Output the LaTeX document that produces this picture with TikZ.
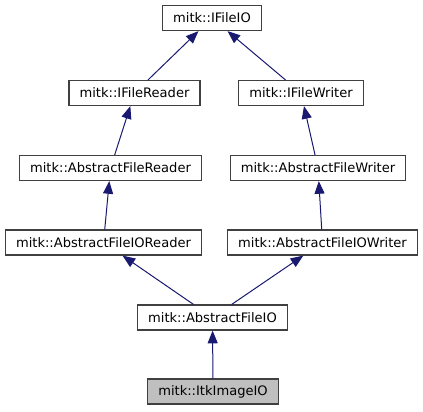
\documentclass[tikz,border=0pt]{standalone}
\usepackage{fontspec}
\setmainfont{DejaVu Sans}
\usetikzlibrary{arrows.meta}

\definecolor{edgeblue}{RGB}{25,25,112}
\definecolor{boxgray}{RGB}{64,64,64}
\definecolor{hlgray}{RGB}{191,191,191}

\tikzset{
  cls/.style={draw=boxgray, line width=0.9pt, fill=white, inner xsep=8pt,
    minimum height=18.75pt, font=\fontsize{9.8}{11}\selectfont},
  cur/.style={cls, fill=hlgray},
  inh/.style={edgeblue, line width=0.75pt, -{Triangle[length=9.5pt,width=7.5pt]}}
}

\begin{document}
\begin{tikzpicture}[x=0.75pt,y=-0.75pt]

\useasboundingbox (0,0) rectangle (423,411);

\node[cls] (io) at (212,18) {mitk::IFileIO};

\node[cls] (rd) at (134.5,93) {mitk::IFileReader};
\node[cls] (wr) at (301,93) {mitk::IFileWriter};

\node[cls] (ard) at (110.5,168) {mitk::AbstractFileReader};
\node[cls] (awr) at (318,168) {mitk::AbstractFileWriter};

\node[cls] (aiord) at (103.5,242.5) {mitk::AbstractFileIOReader};
\node[cls] (aiowr) at (322.5,242.5) {mitk::AbstractFileIOWriter};

\node[cls] (aio) at (212.5,317.5) {mitk::AbstractFileIO};

\node[cur] (itk) at (213,391.5) {mitk::ItkImageIO};

% inheritance
\draw[inh] (rd)--(io);
\draw[inh] (wr)--(io);
\draw[inh] (ard)--(rd);
\draw[inh] (awr)--(wr);
\draw[inh] (aiord)--(ard);
\draw[inh] (aiowr)--(awr);
\draw[inh] (aio)--(aiord);
\draw[inh] (aio)--(aiowr);
\draw[inh] (itk)--(aio);

\end{tikzpicture}
\end{document}
